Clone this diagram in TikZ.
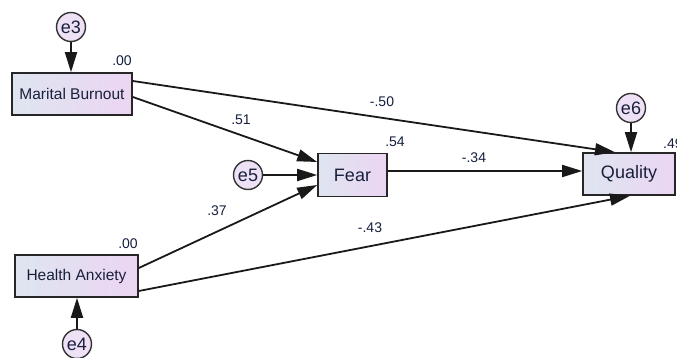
\documentclass[tikz,border=0pt]{standalone}
\usepackage{fontspec}
\setmainfont{Liberation Sans}
\usetikzlibrary{arrows.meta}
\definecolor{boxleft}{RGB}{222,229,240}
\definecolor{boxright}{RGB}{236,213,243}
\definecolor{errfill}{RGB}{238,225,246}
\definecolor{ink}{RGB}{25,32,60}
\definecolor{coef}{RGB}{20,30,60}

\begin{document}
\begin{tikzpicture}[x=1pt, y=-1pt,
  var/.style = {rectangle, draw=black!85, line width=1.6pt, left color=boxleft,
    right color=boxright, text=ink, inner sep=0pt},
  err/.style = {circle, draw=black!80, line width=1.4pt, fill=errfill, text=ink,
    minimum size=29pt, inner sep=0pt, font=\fontsize{18}{19}\selectfont},
  path/.style = {draw=black!90, line width=1.8pt, -{Triangle[length=20pt,width=12pt]}},
  est/.style = {text=coef, font=\fontsize{14}{15}\selectfont, inner sep=0pt}]
  \useasboundingbox (0,0) rectangle (677,358);
  % observed variables
  \node[var, minimum width=120pt, minimum height=42pt, font=\fontsize{15.5}{17}\selectfont]
    (burnout) at (72,94) {Marital Burnout};
  \node[var, minimum width=123pt, minimum height=42pt, font=\fontsize{15.5}{17}\selectfont]
    (anxiety) at (76.5,276) {Health Anxiety};
  \node[var, minimum width=69pt, minimum height=43pt, font=\fontsize{18}{19}\selectfont]
    (fear) at (352.5,175) {Fear};
  \node[var, minimum width=92pt, minimum height=42pt, font=\fontsize{18}{19}\selectfont]
    (quality) at (629,174) {Quality};
  % error terms
  \node[err] (e3) at (71,27) {e3};
  \node[err] (e4) at (77,344) {e4};
  \node[err] (e5) at (248,175) {e5};
  \node[err] (e6) at (631,108) {e6};
  % paths
  \draw[path] (e3) -- (burnout.north -| e3);
  \draw[path] (e4) -- (anxiety.south -| e4);
  \draw[path] (e5) -- (fear.west |- e5);
  \draw[path] (e6) -- (quality.north -| e6);
  \draw[path] ([yshift=13pt]burnout.east) -- ([xshift=-14pt]quality.north);
  \draw[path] ([yshift=-3pt]burnout.east) -- ([yshift=13pt]fear.west);
  \draw[path] ([yshift=8pt]anxiety.east) -- ([yshift=-10pt]fear.west);
  \draw[path] ([yshift=-15pt]anxiety.east) -- ([xshift=1pt]quality.south);
  \draw[path] ([yshift=4pt]fear.east) -- ([yshift=4pt]fear.east -| quality.west);
  % estimates
  \node[est] (r2burnout) at (122,61) {.00};
  \node[est] (r2anxiety) at (128,244) {.00};
  \node[est] (r2fear) at (395,142) {.54};
  \node[est, anchor=west] (r2quality) at (663,144) {.49};
  \node[est] (b51) at (241,120) {.51};
  \node[est] (b50) at (382,102) {-.50};
  \node[est] (b37) at (217,211) {.37};
  \node[est] (b34) at (474,158) {-.34};
  \node[est] (b43) at (370,228) {-.43};
\end{tikzpicture}
\end{document}
